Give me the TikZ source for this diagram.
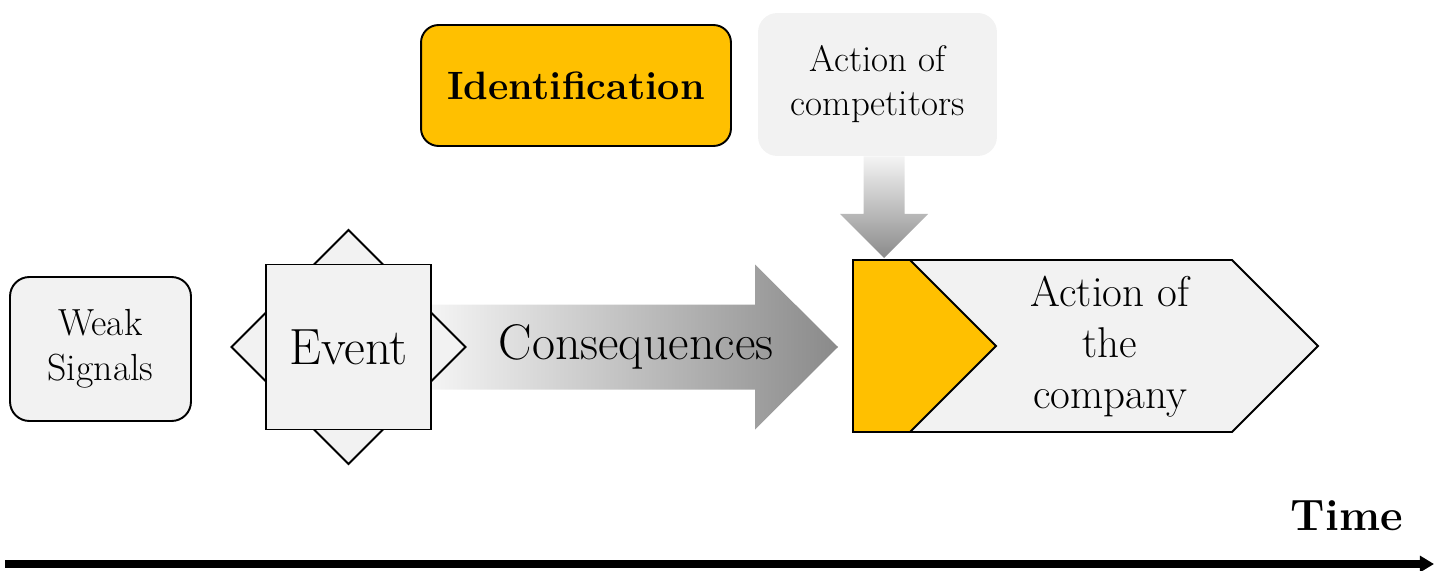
\documentclass[tikz,border=0pt]{standalone}
\usetikzlibrary{arrows.meta,calc}
\definecolor{boxgray}{HTML}{F2F2F2}
\definecolor{idyellow}{HTML}{FFC000}
\definecolor{shadelight}{HTML}{F4F4F4}
\definecolor{shadedark}{HTML}{8A8A8A}
\def\shafthalf{42.5}
\def\headhalf{82.5}
\def\headlen{83}
\tikzset{
  box/.style={
    rectangle,rounded corners=11pt,fill=boxgray,
    inner sep=0pt,align=center
  },
  edged/.style={draw=black,line width=1.1pt},
  plain/.style={fill=boxgray,draw=black,line width=1.1pt,line join=miter},
  fat/.style={top color=shadelight,bottom color=shadedark},
  thin/.style={left color=shadelight,right color=shadedark},
  timeline/.style={line width=4.5pt,-{Triangle[length=8pt,width=9pt]}}
}

\begin{document}
\begin{tikzpicture}[x=0.02cm,y=-0.02cm]
\useasboundingbox (0,0) rectangle (1438,571);

% weak signals and event
\node[box,edged,minimum width=3.62cm,minimum height=2.88cm,
      font=\fontsize{21.5}{25.5}\selectfont] (weak) at (100.5,349) {Weak\\Signals};
\node[minimum size=3.3cm,inner sep=0pt] (event) at (348.5,347) {};

% consequences arrow (behind the star)
\coordinate (cq-tip) at (838,347);
\shade[thin] ($(event.east)+(0,-\shafthalf)$)
  -- ($(cq-tip)+(-\headlen,-\shafthalf)$) -- ($(cq-tip)+(-\headlen,-\headhalf)$)
  -- (cq-tip)
  -- ($(cq-tip)+(-\headlen,\headhalf)$) -- ($(cq-tip)+(-\headlen,\shafthalf)$)
  -- ($(event.east)+(0,\shafthalf)$) -- cycle;
\node[font=\fontsize{28.5}{32}\selectfont] (conseq) at (636,347) {Consequences};

\draw[plain] ($(event)+(0,-117)$) -- ($(event)+(117,0)$)
  -- ($(event)+(0,117)$) -- ($(event)+(-117,0)$) -- cycle;
\node[plain,minimum size=3.3cm,inner sep=0pt,
      font=\fontsize{29}{32}\selectfont] at (event) {Event};

% action of the company
\coordinate (co-nw) at (853,260);
\coordinate (co-sw) at (853,432);
\coordinate (co-w) at (853,346);
\draw[plain] (co-nw) -- (1232,260) -- (1318,346) -- (1232,432) -- (co-sw) -- cycle;
\draw[plain,fill=idyellow] (co-nw) -- (910,260) -- (996,346) -- (910,432) -- (co-sw) -- cycle;
\node[align=center,font=\fontsize{24.5}{29}\selectfont] (company) at (1110,347)
  {Action of\\the\\company};

% top boxes
\node[box,edged,fill=idyellow,rounded corners=10pt,minimum width=6.2cm,
      minimum height=2.42cm,font=\fontsize{22.5}{26}\selectfont\bfseries]
  (ident) at (576,85.5) {Identification};
\node[box,minimum width=4.78cm,minimum height=2.86cm,
      font=\fontsize{21}{25}\selectfont] (comp) at (877.5,84.5) {Action of\\competitors};

% competitors arrow
\coordinate (dn-tip) at (884,258);
\shade[fat] ($(dn-tip |- comp.south)+(-20.5,0)$)
  -- ($(dn-tip)+(-20.5,-44)$) -- ($(dn-tip)+(-44,-44)$)
  -- (dn-tip)
  -- ($(dn-tip)+(44,-44)$) -- ($(dn-tip)+(20.5,-44)$)
  -- ($(dn-tip |- comp.south)+(20.5,0)$) -- cycle;

% time axis
\node[anchor=base east,font=\fontsize{25}{30}\selectfont\bfseries] (time) at (1409,530) {Time};
\coordinate (t0) at (5,564);
\coordinate (t1) at (1434,564);
\draw[timeline] (t0) -- (t1);
\end{tikzpicture}
\end{document}
